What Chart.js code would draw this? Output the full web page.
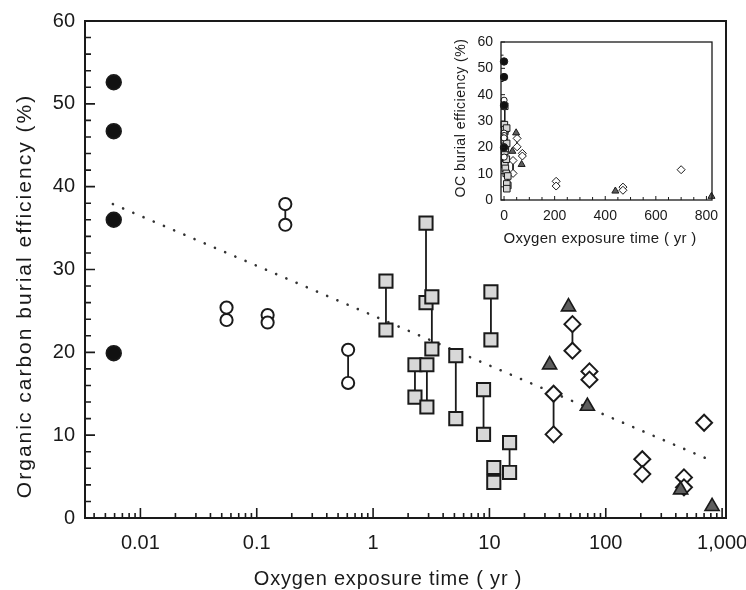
<!DOCTYPE html>
<html>
<head>
<meta charset="utf-8">
<script src="https://cdn.jsdelivr.net/npm/chart.js@4.4.1/dist/chart.umd.min.js"></script>
<style>
  html, body { margin: 0; padding: 0; background: #fff; }
  #wrap { position: relative; width: 746px; height: 590px; }
  #main { position: absolute; left: 0; top: 0; }
  #inset { position: absolute; left: 440px; top: 24px; }
</style>
</head>
<body>
<div id="wrap">
  <canvas id="main" width="746" height="590"></canvas>
  <canvas id="inset" width="284" height="230"></canvas>
</div>
<script>
// oxygen exposure time (yr) / OC burial efficiency (%)
const solidX = [0.0059, 0.0059, 0.0059, 0.0059];
const solidY = [52.6, 46.7, 36.0, 19.9];

const openX = [0.055, 0.055, 0.124, 0.124, 0.176, 0.176, 0.61, 0.61];
const openY = [25.4, 23.9, 24.5, 23.6, 37.9, 35.4, 20.3, 16.3];
const openLinks = [[4, 5], [6, 7]];

const squareX = [1.29, 1.29, 2.85, 2.85, 3.2, 3.2, 2.29, 2.29, 2.9, 2.9, 5.14, 5.14, 10.3, 10.3, 8.9, 8.9, 14.9, 14.9, 10.9, 10.9];
const squareY = [28.6, 22.7, 35.6, 26.0, 26.7, 20.4, 18.5, 14.6, 18.5, 13.4, 19.6, 12.0, 27.3, 21.5, 15.5, 10.1, 9.1, 5.5, 6.1, 4.3];
const squareLinks = [[0, 1], [2, 3], [4, 5], [6, 7], [8, 9], [10, 11], [12, 13], [14, 15], [16, 17]];

const triangleX = [47.8, 32.9, 69.5, 440, 820];
const triangleY = [25.5, 18.5, 13.5, 3.4, 1.4];

const diamondX = [51.7, 51.7, 72.4, 72.4, 35.6, 35.6, 206, 206, 470, 470, 700];
const diamondY = [23.4, 20.2, 17.7, 16.7, 15.0, 10.1, 7.1, 5.3, 4.9, 3.7, 11.5];
const diamondLinks = [[0, 1], [4, 5]];

// dotted regression line (linear in log time)
const trendX = [0.0058, 850];
const trendY = [37.9, 6.8];

const xMajor = [0.01, 0.1, 1, 10, 100, 1000];
const xTickLabels = ['0.01', '0.1', '1', '10', '100', '1,000'];
const insetXTicks = [0, 200, 400, 600, 800];

const ink = '#1a1a1a';
const FONT = '"Liberation Sans", Arial, Helvetica, sans-serif';

const marks = {
    solid:    { pointStyle: 'circle',   r: 7.4, fill: '#111',    w: 1.5 },
    open:     { pointStyle: 'circle',   r: 6.1, fill: '#fff',    w: 1.8 },
    square:   { pointStyle: 'rect',     r: 9.3, fill: '#d8d8d8', w: 1.8 },
    triangle: { pointStyle: 'triangle', r: 8.1, fill: '#5e5e5e', w: 1.5 },
    diamond:  { pointStyle: 'rectRot',  r: 8,   fill: '#fff',    w: 1.8 }
};

function points(xs, ys) {
    return xs.map((x, i) => ({ x: x, y: ys[i] }));
}

function markerSet(xs, ys, m, k) {
    return {
        type: 'scatter',
        data: points(xs, ys),
        pointStyle: m.pointStyle,
        pointRadius: m.r * k,
        pointBackgroundColor: m.fill,
        pointBorderColor: ink,
        pointBorderWidth: Math.max(1, m.w * k * 1.1),
        showLine: false,
        clip: false,
        order: 0
    };
}

function linkSets(xs, ys, links, w) {
    return links.map(([a, b]) => ({
        type: 'scatter',
        data: [{ x: xs[a], y: ys[a] }, { x: xs[b], y: ys[b] }],
        showLine: true,
        borderColor: ink,
        borderWidth: w,
        pointRadius: 0,
        clip: false,
        order: 5
    }));
}

function allSets(k, w) {
    return [
        markerSet(solidX, solidY, marks.solid, k),
        markerSet(openX, openY, marks.open, k),
        markerSet(squareX, squareY, marks.square, k),
        markerSet(triangleX, triangleY, marks.triangle, k),
        markerSet(diamondX, diamondY, marks.diamond, k),
        ...linkSets(openX, openY, openLinks, w),
        ...linkSets(squareX, squareY, squareLinks, w),
        ...linkSets(diamondX, diamondY, diamondLinks, w)
    ];
}

function logTicks(min, max) {
    const out = [];
    for (let e = -4; e <= 4; e++) {
        for (let m = 1; m <= 9; m++) {
            const v = parseFloat((m * Math.pow(10, e)).toPrecision(3));
            if (v >= min && v <= max) out.push({ value: v });
        }
    }
    return out;
}

// frame, inward tick marks and axis titles
function decor(o) {
    return {
        id: 'decor',
        afterDatasetsDraw(chart) {
            const { ctx, chartArea: a, scales: { x, y } } = chart;
            ctx.save();
            ctx.strokeStyle = ink;
            ctx.lineWidth = o.frame;
            ctx.strokeRect(a.left, a.top, a.right - a.left, a.bottom - a.top);
            ctx.lineWidth = o.tick;
            ctx.beginPath();
            x.ticks.forEach(t => {
                const px = x.getPixelForValue(t.value);
                const len = o.xMajor(t.value) ? o.xLen[0] : o.xLen[1];
                ctx.moveTo(px, a.bottom);
                ctx.lineTo(px, a.bottom - len);
            });
            y.ticks.forEach(t => {
                const py = y.getPixelForValue(t.value);
                const len = t.value % 10 === 0 ? o.yLen[0] : o.yLen[1];
                ctx.moveTo(a.left, py);
                ctx.lineTo(a.left + len, py);
            });
            ctx.stroke();
            ctx.restore();
        },
        afterDraw(chart) {
            const ctx = chart.ctx;
            o.titles.forEach(t => {
                ctx.save();
                ctx.fillStyle = ink;
                ctx.font = t.size + 'px ' + FONT;
                ctx.letterSpacing = t.spacing + 'px';
                ctx.textAlign = 'center';
                ctx.textBaseline = 'alphabetic';
                ctx.translate(t.x, t.y);
                if (t.rot) ctx.rotate(-Math.PI / 2);
                ctx.fillText(t.text, 0, 0);
                ctx.restore();
            });
        }
    };
}

const common = {
    responsive: false,
    animation: false,
    events: [],
    plugins: { legend: { display: false }, tooltip: { enabled: false } }
};

// main chart
new Chart(document.getElementById('main'), {
    data: {
        datasets: [
            ...allSets(1, 1.8),
            {
                type: 'line',
                data: points(trendX, trendY),
                borderColor: '#333',
                borderWidth: 2.6,
                borderDash: [0.1, 11],
                borderCapStyle: 'round',
                pointRadius: 0,
                order: 10
            }
        ]
    },
    options: {
        ...common,
        layout: { padding: { top: 21, right: 20, left: 0, bottom: 0 } },
        scales: {
            x: {
                type: 'logarithmic',
                position: 'bottom',
                min: 0.00334,
                max: 1080,
                bounds: 'data',
                grid: { display: false, drawTicks: false },
                border: { display: false },
                afterBuildTicks: s => { s.ticks = logTicks(s.min, s.max); },
                afterFit: s => { s.height = 72; s.paddingLeft = 0; s.paddingRight = 0; },
                ticks: {
                    autoSkip: false,
                    maxRotation: 0,
                    padding: 13,
                    color: ink,
                    font: { family: FONT, size: 20 },
                    callback: v => {
                        const i = xMajor.indexOf(v);
                        return i >= 0 ? xTickLabels[i] : '';
                    }
                }
            },
            y: {
                type: 'linear',
                position: 'left',
                min: 0,
                max: 60,
                grid: { display: false, drawTicks: false },
                border: { display: false },
                afterFit: s => { s.width = 85; s.paddingTop = 0; s.paddingBottom = 0; },
                ticks: {
                    stepSize: 2,
                    autoSkip: false,
                    padding: 10,
                    color: ink,
                    font: { family: FONT, size: 20 },
                    callback: v => (v % 10 === 0 ? v : '')
                }
            }
        }
    },
    plugins: [decor({
        frame: 2,
        tick: 1.6,
        xMajor: v => xMajor.includes(v),
        xLen: [10, 5],
        yLen: [10, 6],
        titles: [
            { text: 'Organic carbon burial efficiency (%)', x: 31, y: 296, rot: true, size: 21, spacing: 2 },
            { text: 'Oxygen exposure time ( yr )', x: 388, y: 585, rot: false, size: 20, spacing: 0.8 }
        ]
    })]
});

// inset, linear time axis
new Chart(document.getElementById('inset'), {
    data: { datasets: allSets(0.5, 1) },
    options: {
        ...common,
        layout: { padding: { top: 18, right: 12, left: 0, bottom: 0 } },
        scales: {
            x: {
                type: 'linear',
                position: 'bottom',
                min: -12,
                max: 822,
                grid: { display: false, drawTicks: false },
                border: { display: false },
                afterBuildTicks: s => {
                    const t = [];
                    for (let v = 0; v <= s.max; v += 50) t.push({ value: v });
                    s.ticks = t;
                },
                afterFit: s => { s.height = 54; s.paddingLeft = 0; s.paddingRight = 0; },
                ticks: {
                    autoSkip: false,
                    maxRotation: 0,
                    padding: 8,
                    color: ink,
                    font: { family: FONT, size: 14 },
                    callback: v => (insetXTicks.includes(v) ? v : '')
                }
            },
            y: {
                type: 'linear',
                position: 'left',
                min: 0,
                max: 60,
                grid: { display: false, drawTicks: false },
                border: { display: false },
                afterFit: s => { s.width = 61; s.paddingTop = 0; s.paddingBottom = 0; },
                ticks: {
                    stepSize: 5,
                    autoSkip: false,
                    padding: 8,
                    color: ink,
                    font: { family: FONT, size: 14 },
                    callback: v => (v % 10 === 0 ? v : '')
                }
            }
        }
    },
    plugins: [decor({
        frame: 1.3,
        tick: 1,
        xMajor: v => insetXTicks.includes(v),
        xLen: [4, 3],
        yLen: [4, 2.5],
        titles: [
            { text: 'OC burial efficiency (%)', x: 25, y: 94, rot: true, size: 14, spacing: 0.5 },
            { text: 'Oxygen exposure time ( yr )', x: 160, y: 219, rot: false, size: 15, spacing: 0.3 }
        ]
    })]
});
</script>
</body>
</html>
